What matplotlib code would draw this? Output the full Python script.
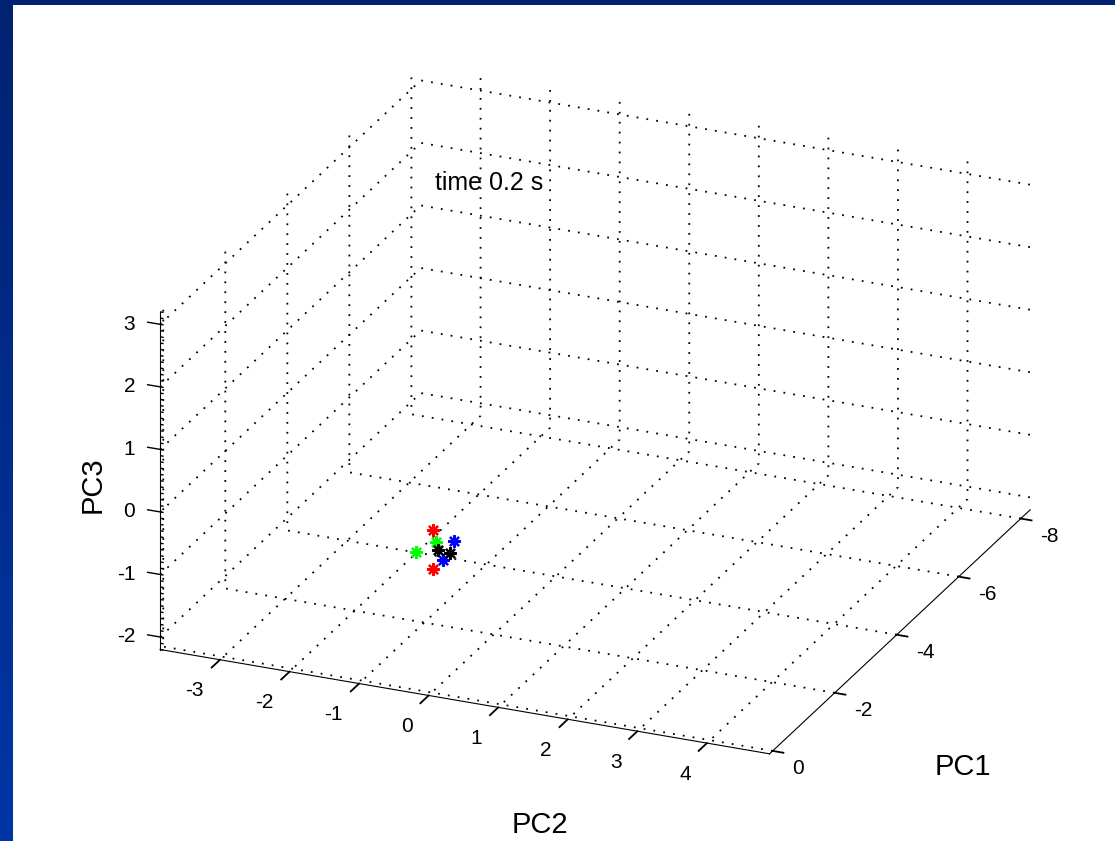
import numpy as np
import matplotlib
matplotlib.use('Agg')
import matplotlib.pyplot as plt
from matplotlib.patches import Rectangle
from mpl_toolkits.mplot3d import proj3d

# ---------------- data ----------------
pc1_lim = (-8.3, 0.1)
pc2_lim = (-3.86, 4.9)
pc3_lim = (-2.2, 3.2)
pc1_ticks = [-8, -6, -4, -2, 0]
pc2_ticks = [-3, -2, -1, 0, 1, 2, 3, 4]
pc3_ticks = [-2, -1, 0, 1, 2, 3]
pc3_minor_step = 0.1

red_pc1 = [-0.2, 0.0]
red_pc2 = [-0.075, 0.014]
red_pc3 = [0.293, -0.222]
green_pc1 = [0.1, 0.0]
green_pc2 = [0.102, -0.230]
green_pc3 = [0.274, 0.004]
blue_pc1 = [-0.3, 0.1]
blue_pc2 = [0.182, 0.203]
blue_pc3 = [0.120, 0.005]
black_pc1 = [0.0, -0.1]
black_pc2 = [0.086, 0.214]
black_pc3 = [0.097, 0.026]

annotation = "time 0.2 s"
xlabel, ylabel, zlabel = "PC1", "PC2", "PC3"

# ---------------- figure ----------------
W, H = 1115, 841
plt.rcParams['font.family'] = ['Liberation Sans', 'DejaVu Sans']
fig = plt.figure(figsize=(W / 100, H / 100), dpi=100, facecolor='white')

# background frame (blue bars)
bg = fig.add_axes([0, 0, 1, 1])
bg.axis('off')
top_c = np.array([0x00, 0x22, 0x70]) / 255
bot_c = np.array([0x00, 0x36, 0xA6]) / 255
t = np.linspace(0, 1, 256)[:, None, None]
grad = top_c[None, None, :] * (1 - t) + bot_c[None, None, :] * t
bg.imshow(grad, extent=[0, 13, H, 0], aspect='auto', interpolation='bilinear')
bg.add_patch(Rectangle((0, 0), W, 5, color=top_c, lw=0))
bg.set_xlim(0, W)
bg.set_ylim(H, 0)

ax = fig.add_axes([0.1, 0.1, 0.8, 0.8], projection='3d')
ax.set_facecolor('none')
ax.set_proj_type('ortho')
ax.view_init(elev=23.6, azim=23.15)
ax.set_box_aspect((1, 1, 0.556))

for axis, inf in ((ax.xaxis, 0.22), (ax.yaxis, 0.4), (ax.zaxis, 0.0)):
    axis._axinfo['grid'].update({'color': 'k', 'linewidth': 1.3,
                                 'linestyle': (0, (1, 4.5))})
    axis._axinfo['tick'].update({'inward_factor': inf, 'outward_factor': 0.0,
                                 'linewidth': {True: 1.3, False: 1.0}})
    axis._axinfo['axisline'].update({'color': 'k', 'linewidth': 1.4})
    axis.set_pane_color((1, 1, 1, 0))
    axis.pane.set_edgecolor('none')

mk = dict(linestyle='none', marker=(8, 2, 0), markersize=9, markeredgewidth=1.6)
ax.plot(red_pc1, red_pc2, red_pc3, color='#ff0000', **mk)
ax.plot(green_pc1, green_pc2, green_pc3, color='#00ff00', **mk)
ax.plot(blue_pc1, blue_pc2, blue_pc3, color='#0000ff', **mk)
ax.plot(black_pc1, black_pc2, black_pc3, color='#000000', **mk)

# z-axis tick marks (major pointing left, minor pointing inward) like MATLAB
zx, zy, zz = [], [], []
for v in pc3_ticks:
    zx += [pc1_lim[1], pc1_lim[1], np.nan]
    zy += [pc2_lim[0], pc2_lim[0] - 0.19, np.nan]
    zz += [v, v, np.nan]
for v in np.arange(pc3_lim[0], pc3_lim[1] + 1e-9, pc3_minor_step):
    zx += [pc1_lim[1], pc1_lim[1], np.nan]
    zy += [pc2_lim[0], pc2_lim[0] + 0.05, np.nan]
    zz += [v, v, np.nan]
ax.plot(zx, zy, zz, color='k', lw=1.0, solid_capstyle='butt')

ax.set_xlim(*pc1_lim)
ax.set_ylim(*pc2_lim)
ax.set_zlim(*pc3_lim)
ax.set_xticks(pc1_ticks)
ax.set_yticks(pc2_ticks)
ax.set_zticks(pc3_ticks)
ax.set_xticklabels([''] * len(pc1_ticks))
ax.set_yticklabels([''] * len(pc2_ticks))
ax.set_zticklabels([''] * len(pc3_ticks))


def to_disp(px, py, pz):
    X, Y, _ = proj3d.proj_transform(px, py, pz, ax.get_proj())
    return ax.transData.transform((X, Y))


# ---- place the 3D box at the wanted pixel positions ----
corners = [((pc1_lim[1], pc2_lim[0], pc3_lim[0]), (160, H - 650)),
           ((pc1_lim[0], pc2_lim[1], pc3_lim[0]), (1030, H - 510)),
           ((pc1_lim[1], pc2_lim[1], pc3_lim[0]), (770, H - 753)),
           ((pc1_lim[1], pc2_lim[0], pc3_lim[1]), (160, H - 312))]

for _ in range(2):
    fig.canvas.draw()
    pos = ax.get_position()
    S0 = pos.width * W
    c0 = np.array([pos.x0 * W + S0 / 2, pos.y0 * H + pos.height * H / 2])
    rows, rhs = [], []
    for (px, py, pz), tgt in corners:
        u = (to_disp(px, py, pz) - c0) / S0
        rows.append([1, 0, u[0]]); rhs.append(tgt[0])
        rows.append([0, 1, u[1]]); rhs.append(tgt[1])
    cx, cy, S = np.linalg.lstsq(np.array(rows), np.array(rhs), rcond=None)[0]
    ax.set_position([(cx - S / 2) / W, (cy - S / 2) / H, S / W, S / H])
fig.canvas.draw()

# ---- tick labels, placed next to the projected tick positions ----
tfs = 15
for v in pc2_ticks:
    d = to_disp(pc1_lim[1], v, pc3_lim[0])
    fig.text((d[0] - 16) / W, (d[1] - 31) / H, str(v), fontsize=tfs,
             ha='right', va='center')
for v in pc1_ticks:
    d = to_disp(v, pc2_lim[1], pc3_lim[0])
    fig.text((d[0] + 19) / W, (d[1] - 18) / H, str(v), fontsize=tfs,
             ha='left', va='center')
for v in pc3_ticks:
    d = to_disp(pc1_lim[1], pc2_lim[0], v)
    fig.text((d[0] - 25) / W, d[1] / H, str(v), fontsize=tfs,
             ha='right', va='center')

fig.text(435 / W, 1 - 183 / H, annotation, fontsize=18, ha='left', va='center')
fig.text(963 / W, 1 - 767 / H, xlabel, fontsize=21, ha='center', va='center')
fig.text(540 / W, 1 - 825 / H, ylabel, fontsize=21, ha='center', va='center')
fig.text(93 / W, 1 - 485 / H, zlabel, fontsize=21, ha='center', va='center',
         rotation=90)

fig.savefig('out.png', dpi=100, facecolor='white')
